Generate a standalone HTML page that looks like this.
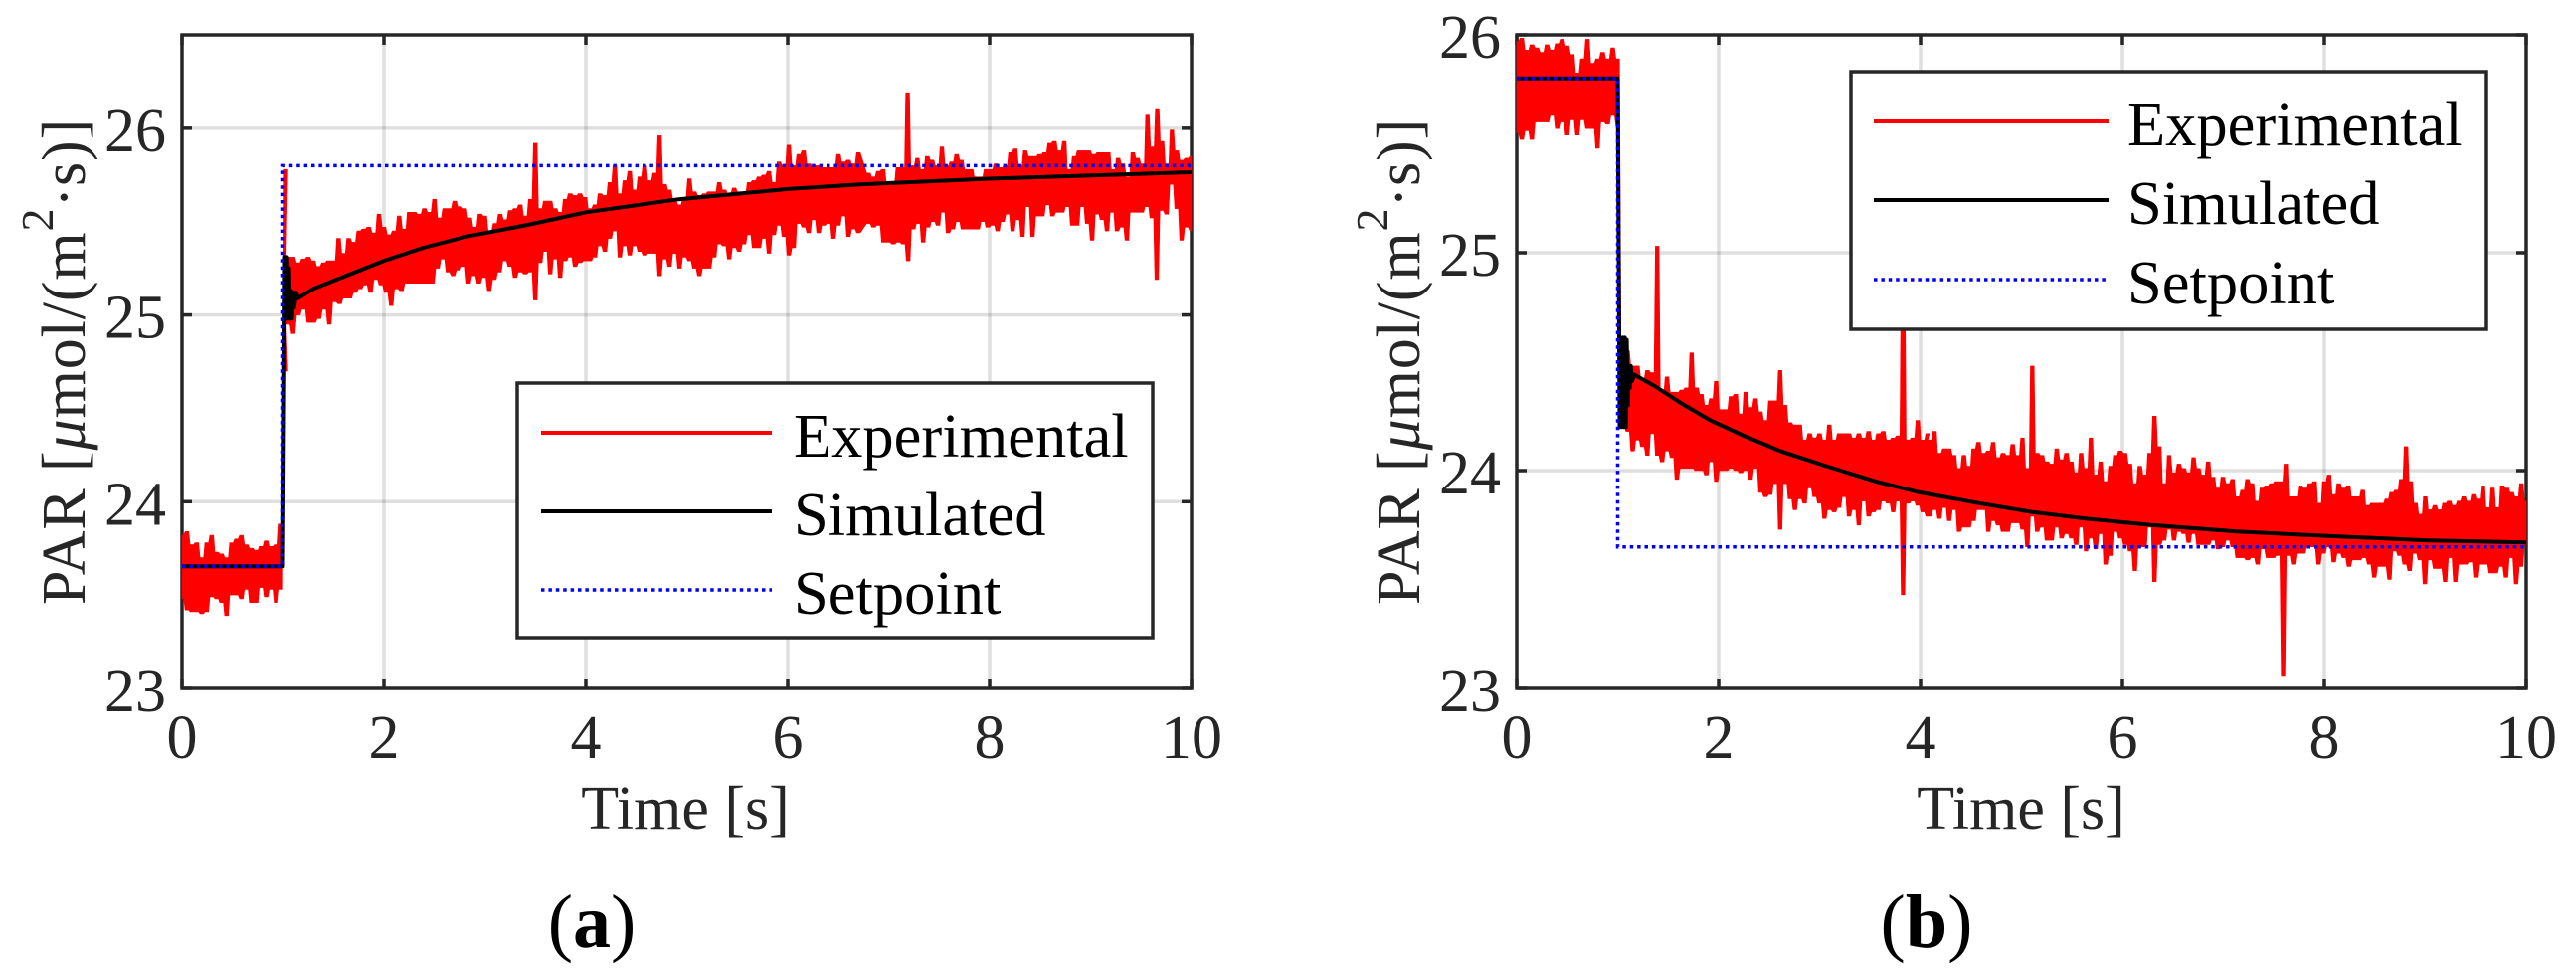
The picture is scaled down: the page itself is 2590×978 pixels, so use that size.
<!DOCTYPE html>
<html lang="en">
<head>
<meta charset="utf-8">
<title>PAR step response: experimental, simulated and setpoint</title>
<style>
html,body{margin:0;padding:0;background:#fff;}
svg{display:block;}
text{font-family:"Liberation Serif","DejaVu Serif",serif;}
.tick-text{font-size:62px;fill:#262626;}
.axis-title{font-size:62px;fill:#262626;}
.legend-text{font-size:62.5px;fill:#000;}
.panel-label{font-size:76px;fill:#000;}
</style>
</head>
<body>
<svg xmlns="http://www.w3.org/2000/svg" width="2590" height="978" viewBox="0 0 2590 978">
  <rect x="0" y="0" width="2590" height="978" fill="#fff"/>

  <g id="panel-a">
    <g id="a-grid"></g>
    <rect x="183" y="35" width="1015" height="657" fill="none" stroke="#262626" stroke-width="3.5"/>
    <g id="a-ticks"></g>
    <g id="a-series"></g>
    <text class="axis-title" style="letter-spacing:0.9px" transform="translate(85,608) rotate(-90)">PAR [<tspan font-style="italic">μ</tspan>mol/(m<tspan font-size="46" dy="-32">2</tspan><tspan dy="32">·s)]</tspan></text>
    <text class="axis-title" x="689" y="833" text-anchor="middle">Time [s]</text>
    <g>
      <rect x="520" y="385" width="639" height="256" fill="#fff" stroke="#262626" stroke-width="3.5"/>
      <line x1="544" y1="435" x2="776" y2="435" stroke="#f00" stroke-width="4"/>
      <line x1="544" y1="514" x2="776" y2="514" stroke="#000" stroke-width="4"/>
      <line x1="544" y1="593" x2="776" y2="593" stroke="#00f" stroke-width="3.5" stroke-dasharray="3.5 3.9"/>
      <text class="legend-text" x="798" y="459">Experimental</text>
      <text class="legend-text" x="798" y="538">Simulated</text>
      <text class="legend-text" x="798" y="617">Setpoint</text>
    </g>
    <text class="panel-label" x="595" y="952" text-anchor="middle">(<tspan font-weight="bold">a</tspan>)</text>
  </g>

  <g id="panel-b">
    <g id="b-grid"></g>
    <rect x="1525" y="35" width="1015" height="657" fill="none" stroke="#262626" stroke-width="3.5"/>
    <g id="b-ticks"></g>
    <g id="b-series"></g>
    <text class="axis-title" style="letter-spacing:0.9px" transform="translate(1427,608) rotate(-90)">PAR [<tspan font-style="italic">μ</tspan>mol/(m<tspan font-size="46" dy="-32">2</tspan><tspan dy="32">·s)]</tspan></text>
    <text class="axis-title" x="2032" y="833" text-anchor="middle">Time [s]</text>
    <g>
      <rect x="1861" y="72" width="639" height="259" fill="#fff" stroke="#262626" stroke-width="3.5"/>
      <line x1="1884" y1="122" x2="2120" y2="122" stroke="#f00" stroke-width="4"/>
      <line x1="1884" y1="201" x2="2120" y2="201" stroke="#000" stroke-width="4"/>
      <line x1="1884" y1="281" x2="2120" y2="281" stroke="#00f" stroke-width="3.5" stroke-dasharray="3.5 3.9"/>
      <text class="legend-text" x="2139" y="146">Experimental</text>
      <text class="legend-text" x="2139" y="225">Simulated</text>
      <text class="legend-text" x="2139" y="305">Setpoint</text>
    </g>
    <text class="panel-label" x="1937" y="952" text-anchor="middle">(<tspan font-weight="bold">b</tspan>)</text>
  </g>
</svg>

<script>
/* Axis tick values */
const xTickLabels = [0, 2, 4, 6, 8, 10];
const yTickLabels = [23, 24, 25, 26];

/* Setpoint */
const setpointTimes = [0, 1, 1, 10];
const setpointA = [23.654, 23.654, 25.8, 25.8];
const setpointB = [25.8, 25.8, 23.65, 23.65];

/* Simulated */
const simTimesA = [0,1,1.02,1.03,1.04,1.05,1.06,1.07,1.08,1.09,1.10,1.11,1.13,1.15,1.3,1.58,2,2.39,2.82,3.4,4,4.92,6,6.72,8,10];
const simValuesA = [23.654,23.654,25.31,24.98,25.31,24.98,25.25,24.98,25.13,24.98,25.12,25.04,25.12,25.09,25.14,25.2,25.29,25.36,25.42,25.48,25.55,25.62,25.675,25.7,25.73,25.765];
const simTimesB = [0,1,1.02,1.03,1.04,1.05,1.06,1.07,1.08,1.09,1.10,1.11,1.12,1.13,1.14,1.166,1.36,1.626,1.92,2.25,2.61,3.07,3.56,3.99,4.58,5.1,5.63,6.29,7.13,8.03,9,10];
const simValuesB = [25.8,25.8,24.2,24.61,24.2,24.61,24.2,24.61,24.2,24.6,24.3,24.48,24.38,24.48,24.41,24.44,24.39,24.31,24.23,24.16,24.09,24.02,23.95,23.9,23.85,23.81,23.78,23.75,23.72,23.7,23.68,23.67];

/* Experimental, panel (a): upper and lower noise envelope, read by segment */
const expSpansA = [[0,0.98],[1.03,1.03],[1.05,3.40],[3.45,6.70],[6.80,10]];
const expUpperA0 = [23.82,23.84,23.77,23.78,23.70,23.78,23.82,23.73,23.72,23.70,23.78,23.80,23.82,23.77,23.75,23.74,23.76,23.79,23.76,23.77,23.88];
const expLowerA0 = [23.48,23.42,23.41,23.41,23.40,23.41,23.49,23.48,23.46,23.39,23.50,23.50,23.48,23.53,23.46,23.46,23.54,23.49,23.53,23.46,23.53];
const expUpperA1 = [25.78];
const expLowerA1 = [24.70];
const expUpperA2 = [25.31,25.31,25.28,25.30,25.31,25.29,25.26,25.28,25.29,25.29,25.41,25.33,25.41,25.39,25.45,25.46,25.47,25.44,25.54,25.47,25.43,25.45,25.53,25.46,25.55,25.55,25.54,25.57,25.55,25.62,25.52,25.57,25.57,25.61,25.58,25.57,25.52,25.47,25.54,25.53,25.45,25.49,25.54,25.51,25.56,25.57,25.59,25.53];
const expLowerA2 = [24.95,24.90,25.00,25.03,24.96,24.96,24.98,25.03,24.95,25.07,25.06,25.09,25.09,25.12,25.14,25.16,25.12,25.19,25.16,25.12,25.05,25.14,25.13,25.17,25.17,25.17,25.17,25.17,25.17,25.25,25.30,25.23,25.21,25.24,25.26,25.17,25.21,25.17,25.20,25.13,25.19,25.23,25.29,25.26,25.20,25.23,25.22];
const expUpperA3 = [25.62,25.92,25.57,25.61,25.61,25.57,25.55,25.62,25.65,25.64,25.65,25.63,25.57,25.59,25.65,25.64,25.71,25.80,25.65,25.72,25.77,25.67,25.74,25.80,25.72,25.76,25.96,25.70,25.67,25.62,25.59,25.63,25.73,25.66,25.64,25.65,25.66,25.66,25.71,25.67,25.65,25.68,25.66,25.65,25.71,25.72,25.74,25.75,25.77,25.71,25.82,25.80,25.91,25.80,25.86,25.88,25.81,25.80,25.80,25.79,25.79,25.79,25.86,25.82,25.83,25.81,25.87];
const expLowerA3 = [25.23,25.08,25.28,25.34,25.22,25.30,25.20,25.29,25.31,25.26,25.28,25.29,25.29,25.31,25.37,25.34,25.41,25.45,25.31,25.37,25.32,25.37,25.34,25.32,25.33,25.33,25.21,25.30,25.26,25.33,25.25,25.31,25.29,25.25,25.21,25.25,25.25,25.31,25.38,25.37,25.30,25.36,25.34,25.38,25.43,25.36,25.36,25.41,25.33,25.43,25.48,25.42,25.32,25.36,25.49,25.47,25.44,25.51,25.44,25.48,25.49,25.41,25.48,25.53,25.42,25.46,25.44];
const expUpperA4 = [25.76,25.74,25.77,25.78,25.70,25.71,25.79,25.79,26.19,25.80,25.84,25.78,25.85,25.83,25.80,25.90,25.80,25.82,25.86,25.83,25.78,25.78,25.74,25.74,25.78,25.78,25.81,25.79,25.80,25.87,25.89,25.80,25.88,25.85,25.85,25.86,25.87,25.92,25.93,25.88,25.93,25.78,25.85,25.88,25.88,25.88,25.86,25.87,25.87,25.87,25.78,25.84,25.81,25.74,25.87,25.84,25.81,26.07,25.90,26.10,25.93,25.81,25.99,25.88,25.83,25.84,25.85];
const expLowerA4 = [25.49,25.47,25.48,25.39,25.39,25.38,25.39,25.38,25.29,25.46,25.49,25.39,25.47,25.50,25.48,25.55,25.44,25.46,25.50,25.46,25.46,25.46,25.46,25.50,25.47,25.48,25.45,25.50,25.54,25.45,25.51,25.42,25.58,25.42,25.53,25.53,25.59,25.53,25.55,25.55,25.58,25.48,25.48,25.58,25.49,25.40,25.54,25.51,25.45,25.55,25.45,25.47,25.40,25.55,25.55,25.55,25.58,25.52,25.19,25.56,25.54,25.70,25.57,25.40,25.47,25.45];

/* Experimental, panel (b) */
const expSpansB = [[0,1],[1.05,4.07],[4.09,7.14],[7.19,10]];
const expUpperB0 = [25.97,25.985,25.93,25.955,25.94,25.92,25.955,25.93,25.96,25.98,25.95,25.91,25.825,25.89,25.98,25.87,25.89,25.92,25.89,25.94,25.89];
const expLowerB0 = [25.55,25.52,25.56,25.52,25.60,25.60,25.60,25.63,25.57,25.60,25.54,25.61,25.54,25.61,25.57,25.57,25.48,25.60,25.59,25.63,25.58];
const expUpperB1 = [24.61,24.55,24.48,24.48,24.42,24.46,24.45,25.03,24.36,24.43,24.36,24.36,24.37,24.38,24.54,24.38,24.35,24.30,24.33,24.41,24.28,24.28,24.34,24.35,24.26,24.36,24.29,24.33,24.27,24.23,24.32,24.32,24.46,24.30,24.22,24.21,24.21,24.14,24.17,24.15,24.17,24.14,24.21,24.14,24.17,24.17,24.17,24.15,24.17,24.15,24.18,24.14,24.17,24.18,24.14,24.15,24.16,25.0,24.14,24.15,24.23,24.14,24.17];
const expLowerB1 = [24.20,24.18,24.09,24.14,24.11,24.07,24.17,24.07,24.04,24.09,24.06,23.96,24.01,24.01,24.01,24.00,24.00,23.98,24.04,23.95,24.00,24.00,24.01,24.00,23.99,24.00,23.96,24.01,23.90,23.88,23.89,23.94,23.73,23.94,23.87,23.82,23.87,23.85,23.92,23.88,23.85,23.78,23.82,23.81,23.83,23.88,23.79,23.82,23.75,23.86,23.79,23.81,23.82,23.86,23.85,23.81,23.86,23.43,23.85,23.86,23.84,23.81,23.79];
const expUpperB2 = [24.14,24.18,24.08,24.10,24.10,24.07,24.01,24.07,24.02,24.10,24.13,24.08,24.09,24.13,24.06,24.08,24.07,24.12,24.07,24.15,24.01,24.48,24.08,24.07,24.04,24.03,24.10,24.05,24.08,24.04,23.99,24.08,24.01,24.15,23.98,24.04,23.95,24.02,24.07,24.09,24.08,24.03,23.94,24.02,23.98,24.08,24.25,24.11,23.94,24.07,23.99,24.03,24.01,23.99,24.06,24.01,23.98,24.04,23.97,23.92,23.97,23.94,23.96,23.88];
const expLowerB2 = [23.79,23.82,23.78,23.83,23.77,23.82,23.72,23.74,23.74,23.77,23.82,23.82,23.72,23.77,23.75,23.72,23.72,23.76,23.76,23.73,23.65,23.79,23.72,23.74,23.68,23.68,23.74,23.69,23.71,23.69,23.66,23.74,23.63,23.69,23.64,23.71,23.57,23.61,23.72,23.69,23.66,23.63,23.54,23.65,23.65,23.74,23.49,23.66,23.68,23.73,23.68,23.72,23.71,23.67,23.71,23.66,23.66,23.66,23.68,23.64,23.65,23.68,23.65,23.60];
const expUpperB3 = [23.91,23.96,23.94,23.86,23.92,23.93,23.94,23.95,23.95,24.03,23.88,23.88,23.93,23.92,23.94,23.95,23.85,23.95,23.98,23.89,23.94,23.92,23.93,23.88,23.88,23.91,23.84,23.85,23.85,23.85,23.87,23.90,23.91,23.96,24.11,23.95,23.85,23.80,23.88,23.82,23.84,23.82,23.85,23.86,23.84,23.86,23.88,23.86,23.89,23.87,23.93,23.83,23.92,23.83,23.93,23.92,23.90,23.88,23.94,23.86];
const expLowerB3 = [23.60,23.59,23.60,23.57,23.64,23.60,23.60,23.61,23.06,23.61,23.57,23.62,23.62,23.65,23.65,23.57,23.62,23.65,23.58,23.62,23.60,23.56,23.59,23.59,23.60,23.57,23.51,23.56,23.56,23.50,23.63,23.61,23.57,23.54,23.62,23.59,23.48,23.59,23.55,23.55,23.49,23.60,23.49,23.57,23.57,23.58,23.51,23.57,23.57,23.53,23.53,23.56,23.51,23.60,23.48,23.56,23.66];

const SVG_NS = 'http://www.w3.org/2000/svg';

/* Lists the samples of one envelope in time order, with a short flat top on each sample. */
function envelopeEdge(spans, arrays) {
  const halfTop = 0.018;
  const edge = [];
  spans.forEach(function (span, s) {
    const arr = arrays[s];
    arr.forEach(function (v, i) {
      const frac = arr.length > 1 ? i / (arr.length - 1) : 0;
      const t = span[0] + (span[1] - span[0]) * frac;
      edge.push({ t: Math.max(0, t - halfTop), v: v });
      edge.push({ t: Math.min(10, t + halfTop), v: v });
    });
  });
  return edge;
}

function pointsAttr(ts, vs, xScale, yScale) {
  return ts.map(function (t, i) {
    return xScale(t).toFixed(1) + ',' + yScale(vs[i]).toFixed(1);
  }).join(' ');
}

function drawPanel(cfg) {
  const plotW = cfg.right - cfg.left;
  const plotH = cfg.bottom - cfg.top;
  const xScale = function (t) { return cfg.left + (t / 10) * plotW; };
  const yScale = function (v) { return cfg.bottom - ((v - cfg.yMin) / (cfg.yMax - cfg.yMin)) * plotH; };
  const gridG = document.getElementById(cfg.id + '-grid');
  const tickG = document.getElementById(cfg.id + '-ticks');
  const seriesG = document.getElementById(cfg.id + '-series');

  function addLine(parent, x1, y1, x2, y2, stroke, width, opacity) {
    const el = document.createElementNS(SVG_NS, 'line');
    el.setAttribute('x1', x1);
    el.setAttribute('y1', y1);
    el.setAttribute('x2', x2);
    el.setAttribute('y2', y2);
    el.setAttribute('stroke', stroke);
    el.setAttribute('stroke-width', width);
    if (opacity) el.setAttribute('stroke-opacity', opacity);
    parent.appendChild(el);
    return el;
  }

  xTickLabels.forEach(function (tick) {
    const x = xScale(tick);
    if (tick > 0 && tick < 10) {
      const gridLine = addLine(gridG, x, cfg.top, x, cfg.bottom, '#262626', 3.5, 0.15);
      
      
    }
    const tickBottom = addLine(tickG, x, cfg.bottom, x, cfg.bottom - 10, '#262626', 3.5);
    
    
    const tickTop = addLine(tickG, x, cfg.top, x, cfg.top + 10, '#262626', 3.5);
    
    
    const label = document.createElementNS(SVG_NS, 'text');
    label.setAttribute('class', 'tick-text');
    label.setAttribute('x', x);
    label.setAttribute('y', cfg.bottom + 70);
    label.setAttribute('text-anchor', 'middle');
    label.textContent = String(tick);
    
    
    tickG.appendChild(label);
  });

  yTickLabels.forEach(function (tick) {
    const y = yScale(tick);
    if (tick > cfg.yMin && tick < cfg.yMax) {
      const gridLine = addLine(gridG, cfg.left, y, cfg.right, y, '#262626', 3.5, 0.15);
      
      
    }
    const tickLeft = addLine(tickG, cfg.left, y, cfg.left + 10, y, '#262626', 3.5);
    
    
    const tickRight = addLine(tickG, cfg.right, y, cfg.right - 10, y, '#262626', 3.5);
    
    
    const label = document.createElementNS(SVG_NS, 'text');
    label.setAttribute('class', 'tick-text');
    label.setAttribute('x', cfg.left - 16);
    label.setAttribute('y', y + 23);
    label.setAttribute('text-anchor', 'end');
    label.textContent = String(tick);
    
    
    tickG.appendChild(label);
  });

  const upperEdge = envelopeEdge(cfg.spans, cfg.uppers);
  const lowerEdge = envelopeEdge(cfg.spans, cfg.lowers).reverse();
  const outline = upperEdge.concat(lowerEdge);
  const expBand = document.createElementNS(SVG_NS, 'polygon');
  expBand.setAttribute('points', pointsAttr(outline.map(function (p) { return p.t; }), outline.map(function (p) { return p.v; }), xScale, yScale));
  expBand.setAttribute('fill', '#f00');
  expBand.setAttribute('stroke', '#f00');
  expBand.setAttribute('stroke-width', '0.6');
  
  
  seriesG.appendChild(expBand);

  const simLine = document.createElementNS(SVG_NS, 'polyline');
  simLine.setAttribute('points', pointsAttr(cfg.simTimes, cfg.simValues, xScale, yScale));
  simLine.setAttribute('fill', 'none');
  simLine.setAttribute('stroke', '#000');
  simLine.setAttribute('stroke-width', '4');
  simLine.setAttribute('stroke-linejoin', 'round');
  
  
  seriesG.appendChild(simLine);

  const spLine = document.createElementNS(SVG_NS, 'polyline');
  spLine.setAttribute('points', pointsAttr(setpointTimes, cfg.setpoint, xScale, yScale));
  spLine.setAttribute('fill', 'none');
  spLine.setAttribute('stroke', '#00f');
  spLine.setAttribute('stroke-width', '3.5');
  spLine.setAttribute('stroke-dasharray', '3.5 3.9');
  
  
  seriesG.appendChild(spLine);
}

drawPanel({
  id: 'a', left: 183, right: 1198, top: 35, bottom: 692, yMin: 23, yMax: 26.5,
  spans: expSpansA,
  uppers: [expUpperA0, expUpperA1, expUpperA2, expUpperA3, expUpperA4],
  lowers: [expLowerA0, expLowerA1, expLowerA2, expLowerA3, expLowerA4],
  simTimes: simTimesA, simValues: simValuesA, setpoint: setpointA
});
drawPanel({
  id: 'b', left: 1525, right: 2540, top: 35, bottom: 692, yMin: 23, yMax: 26,
  spans: expSpansB,
  uppers: [expUpperB0, expUpperB1, expUpperB2, expUpperB3],
  lowers: [expLowerB0, expLowerB1, expLowerB2, expLowerB3],
  simTimes: simTimesB, simValues: simValuesB, setpoint: setpointB
});
</script>
</body>
</html>
